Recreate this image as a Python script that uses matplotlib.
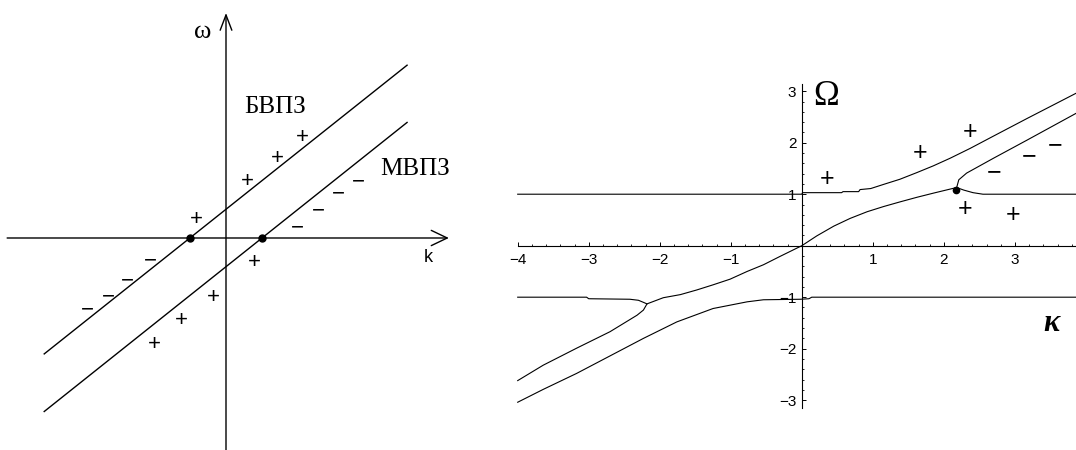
import matplotlib.pyplot as plt
from matplotlib.ticker import MultipleLocator, FixedLocator

#Left sketch: the two gap boundaries in the (k, omega) plane
line_k = [-5.05, 5.03]
bvpz_w = [-3.22, 4.80]
mvpz_w = [-4.82, 3.21]
cross_k = [-1.0, 1.0]
cross_w = [0.0, 0.0]

plus_k = [-0.83, 0.58, 1.42, 2.11, 0.78, -0.36, -1.25, -2.00]
plus_w = [0.58, 1.64, 2.28, 2.86, -0.61, -1.58, -2.22, -2.89]
minus_k = [-2.11, -2.75, -3.28, -3.86, 1.97, 2.56, 3.11, 3.67]
minus_w = [-0.58, -1.11, -1.56, -1.94, 0.36, 0.83, 1.28, 1.64]

#Right plot: computed dispersion branches Omega(kappa)
upper_k = [-4.0, 0.0, 0.01, 0.56, 0.58, 0.80, 0.82, 0.97, 1.15, 1.38, 1.62, 1.85, 2.09, 2.37,
           2.70, 3.17, 3.86]
upper_w = [1.0, 1.0, 1.03, 1.03, 1.05, 1.05, 1.09, 1.11, 1.19, 1.29, 1.42, 1.55, 1.70, 1.89,
           2.13, 2.47, 2.96]

left_flat_k = [-4.0, -3.03, -3.00, -2.42, -2.30, -2.23, -2.18]
left_flat_w = [-1.0, -1.0, -1.03, -1.04, -1.06, -1.10, -1.13]

middle_k = [-4.0, -3.64, -3.17, -2.70, -2.32, -2.23, -2.18, -1.95, -1.71, -1.48, -1.25, -1.01,
            -0.77, -0.54, -0.31, 0.0, 0.21, 0.45, 0.68, 0.92, 1.15, 1.38, 1.62, 1.85, 2.09, 2.18]
middle_w = [-2.62, -2.32, -1.99, -1.67, -1.35, -1.25, -1.13, -1.01, -0.95, -0.86, -0.76, -0.65,
            -0.50, -0.37, -0.21, 0.0, 0.19, 0.38, 0.53, 0.66, 0.76, 0.85, 0.94, 1.02, 1.10, 1.13]

branch_k = [2.18, 2.21, 2.32, 2.70, 3.17, 3.86]
branch_w = [1.13, 1.28, 1.41, 1.70, 2.05, 2.57]

right_flat_k = [2.18, 2.28, 2.41, 2.55, 3.86]
right_flat_w = [1.13, 1.08, 1.03, 1.0, 1.0]

lower_k = [-4.0, -3.64, -3.17, -2.70, -2.23, -1.76, -1.25, -0.77, -0.54, -0.02, 0.10, 0.14, 3.86]
lower_w = [-3.04, -2.79, -2.48, -2.14, -1.80, -1.48, -1.22, -1.09, -1.05, -1.04, -1.03, -1.0, -1.0]

dot_k = [2.17]
dot_w = [1.08]

rplus_k = [0.35, 1.66, 2.37, 2.30, 2.98]
rplus_w = [1.35, 1.84, 2.25, 0.76, 0.65]
rminus_k = [2.71, 3.20, 3.57]
rminus_w = [1.47, 1.78, 2.00]

xticks = [-4, -3, -2, -1, 1, 2, 3]
xtick_labels = ['\u22124', '\u22123', '\u22122', '\u22121', '1', '2', '3']
yticks = [-3, -2, -1, 1, 2, 3]
ytick_labels = ['\u22123', '\u22122', '\u22121', '1', '2', '3']

serif = ['Liberation Serif', 'DejaVu Serif']
sans = ['Liberation Sans', 'DejaVu Sans']

fig = plt.figure(figsize=(10.76, 4.5), dpi=100)

#---- left panel ----
ax1 = fig.add_axes([0, 0, 470 / 1076, 1])
ax1.set_xlim(-6.278, 6.778)
ax1.set_ylim(-5.889, 6.611)
ax1.axis('off')

#Axes drawn as open arrows
ax1.annotate('', xy=(6.19, 0), xytext=(-6.08, 0),
             arrowprops=dict(arrowstyle='->,head_length=1.15,head_width=0.55',
                             lw=1.0, color='black', shrinkA=0, shrinkB=0))
ax1.annotate('', xy=(0, 6.25), xytext=(0, -5.95),
             arrowprops=dict(arrowstyle='->,head_length=1.1,head_width=0.42',
                             lw=1.0, color='black', shrinkA=0, shrinkB=0))

ax1.plot(line_k, bvpz_w, color='black', lw=1.0)
ax1.plot(line_k, mvpz_w, color='black', lw=1.0)
ax1.plot(cross_k, cross_w, 'o', color='black', ms=5)

for k, w in zip(plus_k, plus_w):
    ax1.text(k, w, '+', ha='center', va='center_baseline', fontsize=16, family=sans)
for k, w in zip(minus_k, minus_w):
    ax1.text(k, w, '\u2212', ha='center', va='center_baseline', fontsize=16, family=sans)

ax1.text(-0.64, 5.72, '\u03c9', ha='center', va='center', fontsize=19, family=serif)
ax1.text(5.61, -0.53, 'k', ha='center', va='center', fontsize=13, family=sans)
ax1.text(1.36, 3.64, '\u0411\u0412\u041f\u0417', ha='center', va='center', fontsize=18, family=serif)
ax1.text(5.25, 1.93, '\u041c\u0412\u041f\u0417', ha='center', va='center', fontsize=18, family=serif)

#---- right panel ----
ax2 = fig.add_axes([517.7 / 1076, 42.1 / 450, (1076 - 517.7) / 1076, 324.4 / 450])
ax2.set_xlim(-4, 3.86)
ax2.set_ylim(-3.15, 3.15)
ax2.patch.set_visible(False)

for side in ['top', 'right']:
    ax2.spines[side].set_visible(False)
ax2.spines['left'].set_position(('data', 0))
ax2.spines['bottom'].set_position(('data', 0))
ax2.spines['left'].set_linewidth(0.8)
ax2.spines['bottom'].set_linewidth(0.8)

ax2.xaxis.set_major_locator(FixedLocator(xticks))
ax2.set_xticklabels(xtick_labels, family=sans, fontsize=11)
ax2.xaxis.set_minor_locator(MultipleLocator(0.2))
ax2.yaxis.set_major_locator(FixedLocator(yticks))
ax2.set_yticklabels(ytick_labels, family=sans, fontsize=11)
ax2.yaxis.set_minor_locator(MultipleLocator(0.2))
ax2.tick_params(which='major', direction='in', length=2.6, width=0.7)
ax2.tick_params(which='minor', direction='in', length=1.3, width=0.6)
ax2.tick_params(axis='x', which='major', pad=5)
ax2.tick_params(axis='y', which='major', pad=4)

for xs, ys in [(upper_k, upper_w), (left_flat_k, left_flat_w), (middle_k, middle_w),
               (branch_k, branch_w), (right_flat_k, right_flat_w), (lower_k, lower_w)]:
    ax2.plot(xs, ys, color='black', lw=0.8, clip_on=False)
ax2.plot(dot_k, dot_w, 'o', color='black', ms=4.5)

for k, w in zip(rplus_k, rplus_w):
    ax2.text(k, w, '+', ha='center', va='center_baseline', fontsize=18, family=sans)
for k, w in zip(rminus_k, rminus_w):
    ax2.text(k, w, '\u2212', ha='center', va='center_baseline', fontsize=18, family=sans)

ax2.text(0.34, 2.89, '\u03a9', ha='center', va='center', fontsize=25, family=serif)
ax2.text(3.52, -1.51, '\u03ba', ha='center', va='center', fontsize=22, family=serif,
         style='italic', weight='bold')

fig.savefig('out.png', dpi=100)
